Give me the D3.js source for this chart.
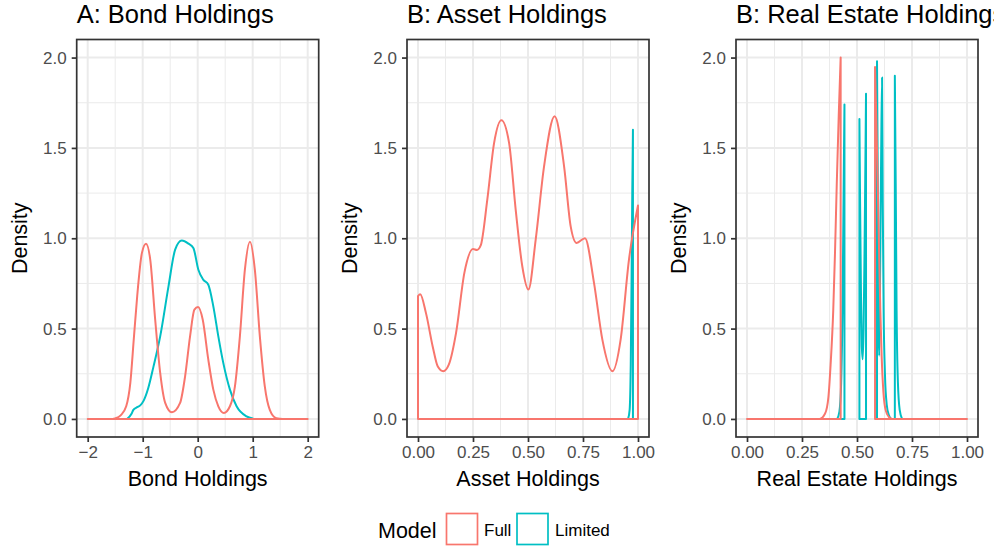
<!DOCTYPE html>
<head>
<meta charset="utf-8">
<title>Holdings densities</title>
<script src="https://cdn.jsdelivr.net/npm/d3@7/dist/d3.min.js"></script>
<style>
body { margin: 0; background: #fff; }
text { font-family: "Liberation Sans", Arial, sans-serif; }
</style>
</head>
<body>
<script>
// density curves: [x, density]; each piece is its own outline
var bondFull = [[
	[-2,0],[-1.55,0],[-1.5,0.003],[-1.4,0.02],[-1.3,0.07],[-1.225,0.2],[-1.16,0.45],[-1.1,0.68],
	[-1.014,0.919],[-0.94,0.97],[-0.863,0.882],[-0.773,0.55],[-0.682,0.255],[-0.591,0.089],
	[-0.47,0.037],[-0.32,0.089],[-0.229,0.236],[-0.139,0.457],[-0.06,0.605],[0.006,0.62],
	[0.091,0.55],[0.193,0.328],[0.284,0.162],[0.375,0.07],[0.477,0.033],[0.586,0.07],
	[0.677,0.18],[0.767,0.457],[0.858,0.826],[0.95,0.98],[1.039,0.826],[1.13,0.457],
	[1.22,0.18],[1.311,0.05],[1.43,0.004],[1.55,0],[2,0]
]];
var bondLimited = [[
	[-1.285,0],[-1.2,0.03],[-1.17,0.05],[-1.1,0.065],[-1.045,0.075],[-0.985,0.1],[-0.9,0.17],
	[-0.803,0.291],[-0.682,0.457],[-0.531,0.734],[-0.41,0.937],[-0.289,0.987],[-0.169,0.970],
	[-0.079,0.946],[0.012,0.826],[0.10,0.771],[0.193,0.743],[0.284,0.623],[0.375,0.457],
	[0.465,0.31],[0.586,0.162],[0.707,0.07],[0.888,0.014],[1.0,0.002]
]];
var assetFull = [[
	[0,0.68],[0.01,0.69],[0.036,0.587],[0.067,0.40],[0.09,0.29],[0.115,0.264],[0.14,0.30],
	[0.173,0.476],[0.211,0.81],[0.25,0.94],[0.268,0.935],[0.285,0.96],[0.315,1.214],
	[0.346,1.528],[0.379,1.653],[0.414,1.528],[0.444,1.159],[0.474,0.845],[0.502,0.716],
	[0.535,0.993],[0.573,1.398],[0.621,1.675],[0.664,1.398],[0.694,1.066],[0.721,0.974],
	[0.759,1.0],[0.80,0.753],[0.838,0.439],[0.884,0.264],[0.921,0.439],[0.959,0.882],[1.0,1.181]
]];
var assetLimited = [[
	[0.955,0],[0.962,0.05],[0.967,0.3],[0.971,0.8],[0.974,1.25],[0.977,1.6]
]];
var realFull = [
	[[0,0],[0.33,0],[0.355,0.03],[0.37,0.12],[0.38,0.3],[0.392,0.6],[0.40,0.92],[0.408,1.3],[0.417,1.68],[0.4257,2.0]],
	[[0.582,1.948],[0.588,1.65],[0.594,1.32],[0.600,0.95],[0.606,0.6],[0.612,0.35],[0.62,0.15],[0.63,0.05],[0.645,0.01],[0.66,0],[1.0,0]]
];
var realLimited = [
	[[0.41,0],[0.42,0.04],[0.428,0.2],[0.434,0.6],[0.438,1.1],[0.441,1.5],[0.443,1.74]],
	[[0.511,1.66],[0.514,1.2],[0.518,0.7],[0.522,0.4],[0.526,0.33],[0.530,0.5],[0.534,0.9],[0.538,1.4],[0.541,1.80]],
	[[0.591,1.98],[0.595,1.2],[0.598,0.5],[0.601,0.35],[0.605,0.8],[0.61,1.5],[0.614,1.89],[0.617,1.2],[0.621,0.6],[0.627,0.25],[0.635,0.08],[0.645,0.02],[0.655,0]],
	[[0.672,1.90],[0.676,1.3],[0.68,0.6],[0.686,0.2],[0.694,0.05],[0.705,0]]
];

var models = ["Full", "Limited"];
var colors = ["#F8766D", "#00BFC4"];
var titles = ["A: Bond Holdings", "B: Asset Holdings", "B: Real Estate Holdings"];
var xLabels = ["Bond Holdings", "Asset Holdings", "Real Estate Holdings"];
var yTicks = [0, 0.5, 1, 1.5, 2];
var yMinor = [0.25, 0.75, 1.25, 1.75];
var bondTicks = [-2, -1, 0, 1, 2];
var bondMinor = [-1.5, -0.5, 0.5, 1.5];
var shareTicks = [0, 0.25, 0.5, 0.75, 1];
var shareMinor = [0.125, 0.375, 0.625, 0.875];

var panels = [
	{left: 76.7, domain: [-2, 2], ticks: bondTicks, minor: bondMinor, fmt: d3.format("d"), data: [bondFull, bondLimited]},
	{left: 407, domain: [0, 1], ticks: shareTicks, minor: shareMinor, fmt: d3.format(".2f"), data: [assetFull, assetLimited]},
	{left: 736, domain: [0, 1], ticks: shareTicks, minor: shareMinor, fmt: d3.format(".2f"), data: [realFull, realLimited]}
];

var width = 994, height = 550;
var pw = 242, pTop = 39.5, pBottom = 437;

var svg = d3.select("body").append("svg")
	.attr("width", width)
	.attr("height", height);

var defs = svg.append("defs");

var y = d3.scaleLinear().domain([-0.1, 2.1]).range([pBottom, pTop]);

panels.forEach(function(p, i) {
	var pad = (p.domain[1] - p.domain[0]) * 0.05;
	var x = d3.scaleLinear().domain([p.domain[0] - pad, p.domain[1] + pad]).range([p.left, p.left + pw]);
	var g = svg.append("g");

	defs.append("clipPath").attr("id", "clip" + i)
		.append("rect").attr("x", p.left).attr("y", pTop).attr("width", pw).attr("height", pBottom - pTop);

	// grid
	g.selectAll(".xminor").data(p.minor).enter().append("line")
		.attr("x1", d => x(d)).attr("x2", d => x(d)).attr("y1", pTop).attr("y2", pBottom)
		.style("stroke", "#EBEBEB").style("stroke-width", 1);
	g.selectAll(".yminor").data(yMinor).enter().append("line")
		.attr("x1", p.left).attr("x2", p.left + pw).attr("y1", d => y(d)).attr("y2", d => y(d))
		.style("stroke", "#EBEBEB").style("stroke-width", 1);
	g.selectAll(".xmajor").data(p.ticks).enter().append("line")
		.attr("x1", d => x(d)).attr("x2", d => x(d)).attr("y1", pTop).attr("y2", pBottom)
		.style("stroke", "#EBEBEB").style("stroke-width", 2);
	g.selectAll(".ymajor").data(yTicks).enter().append("line")
		.attr("x1", p.left).attr("x2", p.left + pw).attr("y1", d => y(d)).attr("y2", d => y(d))
		.style("stroke", "#EBEBEB").style("stroke-width", 2);

	// densities: limited first, full on top
	var area = d3.area()
		.x(d => x(d[0]))
		.y0(y(0))
		.y1(d => y(d[1]))
		.curve(d3.curveMonotoneX);
	var lines = g.append("g").attr("clip-path", "url(#clip" + i + ")");
	[1, 0].forEach(function(m) {
		lines.selectAll(".m" + m).data(p.data[m]).enter().append("path")
			.attr("class", "m" + m)
			.attr("d", area)
			.style("fill", "none")
			.style("stroke", colors[m])
			.style("stroke-width", 2)
			.style("stroke-linejoin", "round");
	});

	// border
	g.append("rect")
		.attr("x", p.left).attr("y", pTop).attr("width", pw).attr("height", pBottom - pTop)
		.style("fill", "none").style("stroke", "#333333").style("stroke-width", 1.7);

	// axes
	var ax = g.append("g").attr("transform", "translate(0," + pBottom + ")")
		.call(d3.axisBottom(x).tickValues(p.ticks).tickFormat(p.fmt).tickSize(5).tickPadding(4));
	var ay = g.append("g").attr("transform", "translate(" + p.left + ",0)")
		.call(d3.axisLeft(y).tickValues(yTicks).tickFormat(d3.format(".1f")).tickSize(5).tickPadding(5));
	[ax, ay].forEach(function(a) {
		a.select(".domain").remove();
		a.selectAll("line").style("stroke", "#333333").style("stroke-width", 1.7);
		a.selectAll("text").style("fill", "#4D4D4D").style("font-size", "17px")
			.style("font-family", "'Liberation Sans', Arial, sans-serif");
	});

	// titles
	g.append("text").attr("x", p.left).attr("y", 23)
		.style("font-size", "25.5px").style("fill", "#000").text(titles[i]);
	g.append("text").attr("x", p.left + pw / 2).attr("y", 486)
		.attr("text-anchor", "middle").style("font-size", "21.5px").text(xLabels[i]);
	g.append("text")
		.attr("transform", "translate(" + (p.left - 50) + "," + ((pTop + pBottom) / 2) + ") rotate(-90)")
		.attr("text-anchor", "middle").style("font-size", "21.5px").text("Density");
});

// legend
var leg = svg.append("g");
leg.append("text").attr("x", 378).attr("y", 538).style("font-size", "21.5px").text("Model");
var keyX = [446.5, 517], labX = [484, 555];
models.forEach(function(m, i) {
	leg.append("rect").attr("x", keyX[i]).attr("y", 513.5).attr("width", 31).attr("height", 31)
		.style("fill", "#fff").style("stroke", colors[i]).style("stroke-width", 1.7);
	leg.append("text").attr("x", labX[i]).attr("y", 536).style("font-size", "17px").text(m);
});
</script>
</body>
